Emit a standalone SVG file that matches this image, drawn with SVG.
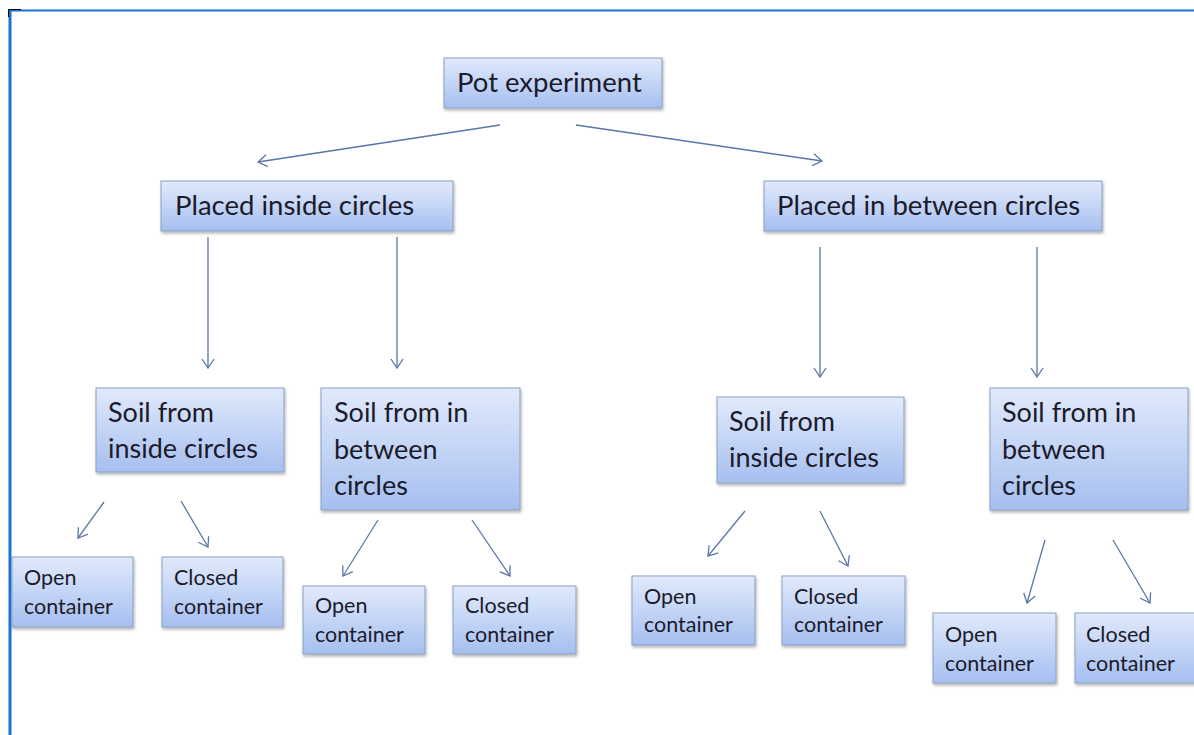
<svg xmlns="http://www.w3.org/2000/svg" width="1194" height="735" viewBox="0 0 1194 735">
<style>
.box{fill:url(#g);stroke:#8a9fc4;stroke-width:1;filter:url(#sh)}
.t{font-family:Lato,"Open Sans","Liberation Sans",sans-serif;fill:#1b1b2b}
.big{font-size:27.5px}
.mid{font-size:27px}
.sm{font-size:21.5px}
.c{fill:none;stroke:#5a76a8;stroke-width:1.3;marker-end:url(#ah)}
</style>
<defs>
<linearGradient id="g" x1="0" y1="0" x2="0" y2="1">
<stop offset="0" stop-color="#e1eafb"/>
<stop offset="1" stop-color="#a6bff0"/>
</linearGradient>
<filter id="sh" x="-10%" y="-10%" width="125%" height="140%">
<feDropShadow dx="1" dy="2" stdDeviation="1.5" flood-color="#000" flood-opacity="0.3"/>
</filter>
<marker id="ah" markerWidth="14" markerHeight="14" refX="11" refY="7" orient="auto" markerUnits="userSpaceOnUse">
<path d="M2,1 L11,7 L2,13" fill="none" stroke="#5a76a8" stroke-width="1.3"/>
</marker>
</defs>
<rect width="1194" height="735" fill="#fff"/>
<g id="frame">
<line x1="9" y1="10.5" x2="1194" y2="10.5" stroke="#1a73d0" stroke-width="2"/>
<line x1="10" y1="10" x2="10" y2="735" stroke="#1a73d0" stroke-width="3"/>
<path d="M8.5,17 V9.5 H21" fill="none" stroke="#000" stroke-width="1"/>
</g>
<g id="connectors">
<line class="c" x1="500" y1="125" x2="258" y2="162"/>
<line class="c" x1="576" y1="125" x2="822" y2="161"/>
<line class="c" x1="208" y1="237" x2="208" y2="368"/>
<line class="c" x1="397" y1="237" x2="397" y2="368"/>
<line class="c" x1="820" y1="247" x2="820" y2="377"/>
<line class="c" x1="1037" y1="247" x2="1037" y2="377"/>
<line class="c" x1="104" y1="502" x2="78" y2="538"/>
<line class="c" x1="181" y1="501" x2="208" y2="547"/>
<line class="c" x1="378" y1="520" x2="343" y2="576"/>
<line class="c" x1="472" y1="520" x2="510" y2="576"/>
<line class="c" x1="745" y1="511" x2="708" y2="556"/>
<line class="c" x1="820" y1="511" x2="848" y2="566"/>
<line class="c" x1="1045" y1="540" x2="1027" y2="603"/>
<line class="c" x1="1113" y1="540" x2="1150" y2="603"/>
</g>
<g id="pot">
<rect class="box" x="444" y="58" width="218" height="50"/>
<text class="t big" x="457" y="92">Pot experiment</text>
</g>
<g id="inside">
<rect class="box" x="161" y="181" width="292" height="50"/>
<text class="t big" x="175" y="215">Placed inside circles</text>
</g>
<g id="between">
<rect class="box" x="764" y="181" width="338" height="50"/>
<text class="t big" x="777" y="215">Placed in between circles</text>
</g>
<g id="ii">
<rect class="box" x="96" y="388" width="188" height="84"/>
<text class="t mid" x="108" y="422">Soil from</text>
<text class="t mid" x="108" y="458">inside circles</text>
</g>
<g id="ib">
<rect class="box" x="321" y="388" width="199" height="122"/>
<text class="t mid" x="334" y="422">Soil from in</text>
<text class="t mid" x="334" y="459">between</text>
<text class="t mid" x="334" y="495">circles</text>
</g>
<g id="bi">
<rect class="box" x="717" y="397" width="187" height="86"/>
<text class="t mid" x="729" y="431">Soil from</text>
<text class="t mid" x="729" y="467">inside circles</text>
</g>
<g id="bb">
<rect class="box" x="990" y="388" width="198" height="122"/>
<text class="t mid" x="1002" y="422">Soil from in</text>
<text class="t mid" x="1002" y="459">between</text>
<text class="t mid" x="1002" y="495">circles</text>
</g>
<g id="o1">
<rect class="box" x="12" y="557" width="121" height="70"/>
<text class="t sm" x="24" y="585">Open</text>
<text class="t sm" x="24" y="614">container</text>
</g>
<g id="c1">
<rect class="box" x="162" y="557" width="121" height="70"/>
<text class="t sm" x="174" y="585">Closed</text>
<text class="t sm" x="174" y="614">container</text>
</g>
<g id="o2">
<rect class="box" x="303" y="586" width="122" height="68"/>
<text class="t sm" x="315" y="613">Open</text>
<text class="t sm" x="315" y="642">container</text>
</g>
<g id="c2">
<rect class="box" x="453" y="586" width="123" height="68"/>
<text class="t sm" x="465" y="613">Closed</text>
<text class="t sm" x="465" y="642">container</text>
</g>
<g id="o3">
<rect class="box" x="632" y="576" width="123" height="69"/>
<text class="t sm" x="644" y="604">Open</text>
<text class="t sm" x="644" y="632">container</text>
</g>
<g id="c3">
<rect class="box" x="782" y="576" width="123" height="69"/>
<text class="t sm" x="794" y="604">Closed</text>
<text class="t sm" x="794" y="632">container</text>
</g>
<g id="o4">
<rect class="box" x="933" y="613" width="123" height="70"/>
<text class="t sm" x="945" y="642">Open</text>
<text class="t sm" x="945" y="671">container</text>
</g>
<g id="c4">
<rect class="box" x="1075" y="613" width="122" height="70"/>
<text class="t sm" x="1086" y="642">Closed</text>
<text class="t sm" x="1086" y="671">container</text>
</g>
</svg>
